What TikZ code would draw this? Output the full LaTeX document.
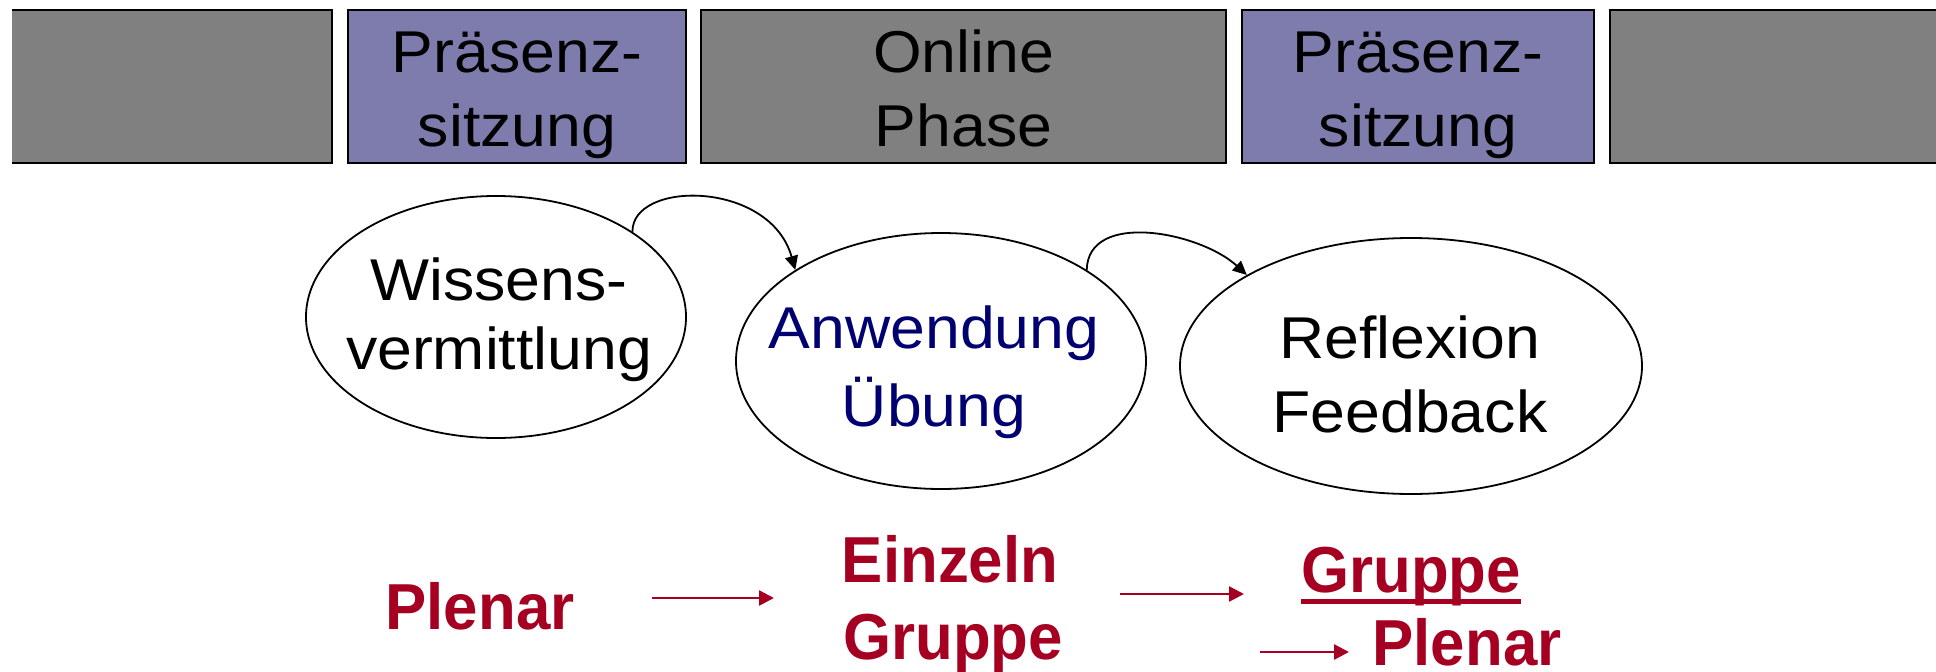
\documentclass[tikz,border=0pt]{standalone}
\usepackage{fontspec}
\setmainfont{Liberation Sans}
\newfontfamily\regf[FakeStretch=1.06]{Liberation Sans}
\newfontfamily\redf[FakeStretch=0.95]{Liberation Sans}
\usetikzlibrary{arrows.meta,shapes.geometric}
\definecolor{boxgray}{RGB}{128,128,128}
\definecolor{boxpurple}{RGB}{126,124,172}
\definecolor{navytext}{RGB}{0,0,112}
\definecolor{darkred}{RGB}{165,0,33}
\newcommand{\mytwo}[2]{\begin{tabular}[t]{@{}c@{}}#1\\#2\end{tabular}}
\begin{document}
\begin{tikzpicture}[x=1pt,y=-1pt,
  phasebox/.style={draw=black, line width=2pt, minimum height=153pt, inner sep=0pt},
  graybox/.style={phasebox, fill=boxgray},
  purplebox/.style={phasebox, fill=boxpurple},
  lbl/.style={inner sep=0pt, anchor=base, font=\regf\fontsize{59}{#1}\selectfont},
  lbl/.default=71,
  bubble/.style={draw=black, line width=1.8pt, ellipse, inner sep=0pt},
  redlbl/.style={inner sep=0pt, anchor=base, text=darkred, font=\redf\bfseries\fontsize{65}{78}\selectfont},
  flow/.style={draw=darkred, line width=2.5pt, -{Triangle[length=15pt,width=15pt]}},
  link/.style={draw=black, line width=1.8pt, -{Triangle[length=14pt,width=13pt]}}
]
\useasboundingbox (0,0) rectangle (1936,672);
% phase bar
\begin{scope}
  \clip (12,0) rectangle (1936,672);
  \node[graybox, minimum width=352pt] (b1) at (156,86.5) {};
  \node[purplebox, minimum width=338pt] (b2) at (517,86.5) {};
  \node[graybox, minimum width=525pt] (b3) at (963.5,86.5) {};
  \node[purplebox, minimum width=352pt] (b4) at (1418,86.5) {};
  \node[graybox, minimum width=360pt] (b5) at (1790,86.5) {};
\end{scope}
\node[lbl=74] (t2) at (517,72) {\mytwo{Präsenz-}{sitzung}};
\node[lbl=74] (t3) at (963.5,72) {\mytwo{Online}{Phase}};
\node[lbl=74] (t4) at (1418,72) {\mytwo{Präsenz-}{sitzung}};
% ellipses
\node[bubble, minimum width=380pt, minimum height=242pt] (e1) at (496,317) {};
\node[bubble, minimum width=410pt, minimum height=256pt] (e2) at (941,361) {};
\node[bubble, minimum width=462pt, minimum height=256pt] (e3) at (1411,366) {};
\node[lbl=69] (w1) at (499,300) {\mytwo{Wissens-}{vermittlung}};
\node[lbl=78, text=navytext] (w2) at (934,348) {\mytwo{Anwendung}{Übung}};
\node[lbl=74] (w3) at (1410,358) {\mytwo{Reflexion}{Feedback}};
\draw[link] (e1.32) .. controls (632,180) and (770,180) .. (e2.148);
\draw[link] (e2.32) .. controls (1088,210) and (1200,232) .. (e3.151);
% social forms
\node[redlbl] (p1) at (480,629) {Plenar};
\node[redlbl] (z1) at (950,582) {Einzeln};
\node[redlbl] (g1) at (953,659) {Gruppe};
\node[redlbl] (g2) at (1411,592) {Gruppe};
\node[redlbl] (p2) at (1467,665) {Plenar};
\draw[darkred, line width=5pt] ([yshift=-9.5pt]g2.base west) -- ([yshift=-9.5pt]g2.base east);
\coordinate (f1s) at (652,598);
\coordinate (f1e) at (774,598);
\coordinate (f2s) at (1120,594);
\coordinate (f2e) at (1244,594);
\coordinate (f3s) at (1260,652);
\coordinate (f3e) at (1349,652);
\draw[flow] (f1s) -- (f1e);
\draw[flow] (f2s) -- (f2e);
\draw[flow] (f3s) -- (f3e);
\end{tikzpicture}
\end{document}
